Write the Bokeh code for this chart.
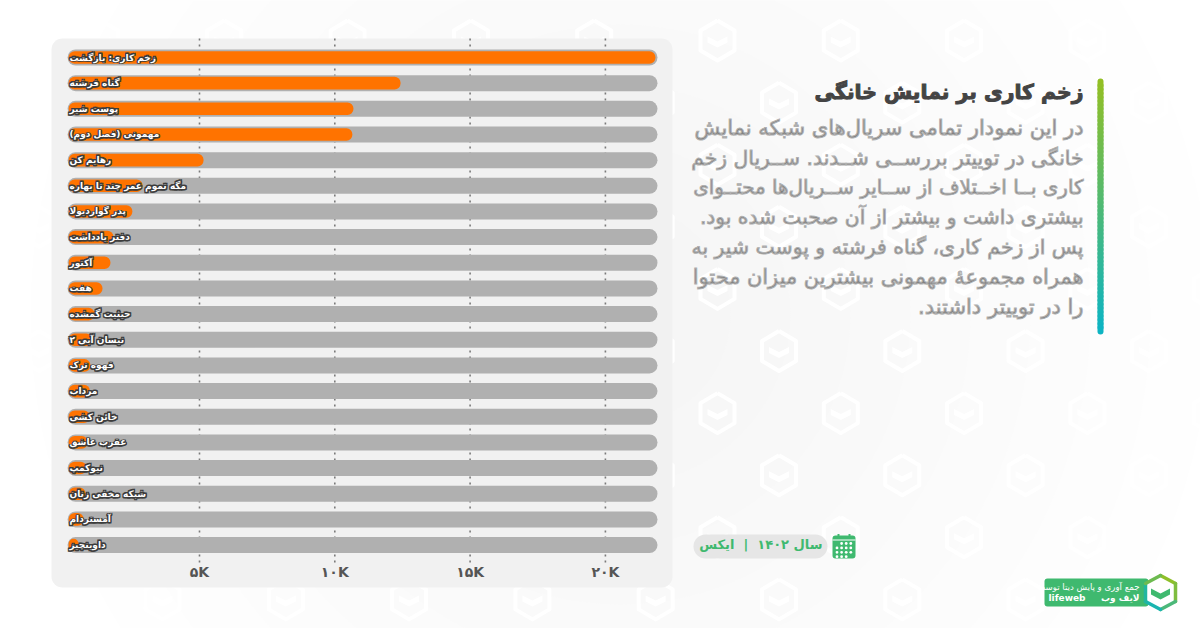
from bokeh.plotting import figure
from bokeh.models import Range1d, LinearAxis, FixedTicker, ColumnDataSource
from bokeh.core.properties import value
from bokeh.embed import file_html
from bokeh.resources import INLINE

# ---------- data ----------
shows = ["زخم کاری: بازگشت", "گناه فرشته", "پوست شیر", "مهمونی (فصل دوم)", "رهایم کن",
         "مگه تموم عمر چند تا بهاره", "پدر گواردیولا", "دفتر یادداشت", "آکتور", "هفت",
         "حیثیت گمشده", "نیسان آبی ۲", "قهوه ترک", "مرداب", "خائن کشی",
         "عقرب عاشق", "نیوکمپ", "شبکه مخفی زنان", "آمستردام", "داوینچیز"]
counts = [21850, 12430, 10690, 10650, 5150,
          2900, 2520, 1820, 1710, 1415,
          1120, 1040, 970, 950, 950,
          870, 825, 790, 720, 530]
track_end = 21925
bar_start = 125
tick_values = [5000, 10000, 15000, 20000]
tick_labels = {5000: "۵K", 10000: "۱۰K", 15000: "۱۵K", 20000: "۲۰K"}

title_text = "زخم کاری بر نمایش خانگی"
body_lines = ["در این نمودار تمامی سریال‌های شبکه نمایش",
              "خانگی در توییتر بررســی شــدند. ســریال زخم",
              "کاری بــا اخــتلاف از ســایر ســریال‌ها محتــوای",
              "بیشتری داشت و بیشتر از آن صحبت شده بود.",
              "پس از زخم کاری، گناه فرشته و پوست شیر به",
              "همراه مجموعهٔ مهمونی بیشترین میزان محتوا",
              "را در توییتر داشتند."]
body_sizes = ["21px", "20.3px", "19.9px", "20.2px", "20.4px", "20.9px", "21px"]
period_text = "سال ۱۴۰۲\u00a0\u00a0|\u00a0\u00a0ایکس"
credit_1 = "جمع آوری و پایش دیتا توسط"
credit_2 = "لایف وب"
credit_3 = "lifeweb"

def rtl(s):
    return "\u200f" + s + "\u200f"

# ---------- scales: the frame fills the page, values map through x_range ----------
W, H = 1200, 628
OFF = 0
PX_PER_UNIT = 135.3 / 5000
X_ZERO_PX = 63.7
ROW_PX = 25.66
ROW0_PX = 57.0
def val_at(px): return (px - X_ZERO_PX) / PX_PER_UNIT
def row_at(py): return (py - ROW0_PX) / ROW_PX

p = figure(width=W, height=H, output_backend="svg", toolbar_location=None,
           x_range=Range1d(val_at(OFF), val_at(OFF + W)),
           y_range=Range1d(row_at(OFF + H), row_at(OFF)),
           min_border=0, min_border_left=0, min_border_right=0, min_border_top=0, min_border_bottom=0,
           x_axis_type=None, y_axis_type=None, outline_line_color=None)
p.grid.visible = False
p.background_fill_color = "#ffffff"
p.border_fill_color = "#ffffff"
p.extra_x_ranges["sx"] = Range1d(OFF, OFF + W)
p.extra_y_ranges["sy"] = Range1d(OFF + H, OFF)
S = dict(x_range_name="sx", y_range_name="sy")
FONT = value("DejaVu Sans")

# background radial glow
glow = ["#fefefe", "#fdfdfd", "#fcfcfc", "#fbfbfb", "#fafafa", "#f9f9f9", "#f8f8f8", "#f7f7f7", "#f6f6f6"]
for i, c in enumerate(glow):
    p.circle(x=[620], y=[314], radius=590 - i * 60, fill_color=c, line_color=None, **S)

# watermark hexagons
hex_pts = [(0, -20), (17, -10), (17, 10), (0, 20), (-17, 10), (-17, -10), (0, -20)]
chev = [(-10, -4), (0, 1), (10, -4), (10, 2), (0, 7), (-10, 2)]
hx, hy, cx, cy = [], [], [], []
for k in range(10):
    y0 = 40 + 62.1 * k
    start = 100.5 if k % 2 == 0 else 38.7
    for n in range(10):
        x0 = start + 123.3 * n
        hx.append([x0 + a for a, b in hex_pts]); hy.append([y0 + b for a, b in hex_pts])
        cx.append([x0 + a for a, b in chev]); cy.append([y0 + b for a, b in chev])
p.multi_line(hx, hy, line_color="#ffffff", line_width=4, line_join="round", **S)
p.patches(cx, cy, fill_color="#ffffff", line_color=None, **S)

# card
p.hbar(y=[(38 + 587) / 2], height=587 - 38, left=[51], right=[672], fill_color="#f1f1f1",
       line_color=None, border_radius=11, **S)

# grid
p.segment(x0=tick_values, x1=tick_values, y0=[row_at(38)] * 4, y1=[row_at(566)] * 4,
          line_color="#7a7a7a", line_width=1.6, line_dash="2 4")

# bars
rows = list(range(len(shows)))
left0 = [bar_start] * len(shows)
p.hbar(y=rows, height=16 / ROW_PX, left=left0, right=[track_end] * len(shows),
       fill_color="#b0b0b0", line_color=None, border_radius=8)
p.hbar(y=rows, height=12.6 / ROW_PX, left=[bar_start + 40] * len(shows), right=counts,
       fill_color="#ff7300", line_color=None, border_radius=6)

# labels: dark halo below, clean white layer above
labels = [rtl(s) for s in shows]
lab = dict(x=[bar_start + 70] * len(shows), y=rows, text=labels, text_font=FONT, text_font_style="bold",
           text_font_size="9px", text_align="left", text_baseline="middle")
for dx, dy in [(-0.8, -0.8), (0.8, -0.8), (-0.8, 0.8), (0.8, 0.8)]:
    p.text(text_color="#3c3c3c", text_outline_color="#3c3c3c", x_offset=dx, y_offset=dy, **lab)
p.text(text_color="#ffffff", **lab)

# axis
axis = LinearAxis(ticker=FixedTicker(ticks=tick_values), fixed_location=row_at(556),
                  major_label_overrides=tick_labels, axis_line_color=None,
                  major_tick_line_color=None, minor_tick_line_color=None,
                  major_label_text_font="DejaVu Sans", major_label_text_font_style="bold",
                  major_label_text_font_size="14px", major_label_text_color="#555555",
                  major_label_standoff=1)
p.add_layout(axis, "below")

# title + paragraph
p.text(x=[1083], y=[91], text=[rtl(title_text)], text_font=FONT, text_font_style="bold",
       text_font_size="20.4px", text_color="#444444", text_outline_color="#444444",
       text_align="right", text_baseline="middle", **S)
body_src = ColumnDataSource(dict(x=[1083] * len(body_lines),
                                 y=[127.5 + 29.8 * i for i in range(len(body_lines))],
                                 t=[rtl(s) for s in body_lines], s=body_sizes))
p.text(x="x", y="y", text="t", source=body_src, text_font=FONT, text_font_size="s",
       text_color="#808080", text_outline_color="#b0b0b0", text_align="right",
       text_baseline="middle", **S)

# accent bar
n = 64
for i in range(n):
    t = i / (n - 1)
    col = "#%02x%02x%02x" % (round(0x93 + (0x0e - 0x93) * t), round(0xbf + (0xb4 - 0xbf) * t), round(0x24 + (0xc2 - 0x24) * t))
    p.segment(x0=[1100], x1=[1100], y0=[81 + 250 * i / n], y1=[81 + 250 * (i + 1) / n],
              line_color=col, line_width=6, line_cap="round", **S)

# period pill
p.hbar(y=[546], height=24, left=[693], right=[827], fill_color="#e6e6e6", line_color=None, border_radius=12, **S)
p.text(x=[822], y=[544], text=[rtl(period_text)], text_font=FONT, text_font_style="bold", text_font_size="13px",
       text_color="#3fb96f", text_align="right", text_baseline="middle", **S)
# calendar icon
p.hbar(y=[546.5], height=23, left=[832], right=[855], fill_color="#3fb96f", line_color=None, border_radius=3, **S)
p.segment(x0=[838, 849], x1=[838, 849], y0=[533.5, 533.5], y1=[536, 536], line_color="#3fb96f", line_width=2, **S)
p.segment(x0=[832], x1=[855], y0=[539.5], y1=[539.5], line_color="#ffffff", line_width=1, **S)
dots = [(1, 0), (2, 0), (3, 0), (0, 1), (1, 1), (2, 1), (3, 1), (0, 2), (1, 2), (2, 2), (3, 2), (0, 3), (1, 3), (2, 3)]
p.scatter([836.5 + 4.6 * a for a, b in dots], [543 + 4.4 * b for a, b in dots], size=2.8,
          marker="circle", fill_color="#ffffff", line_color=None, **S)

# credit
p.hbar(y=[592], height=28, left=[1044], right=[1148], fill_color="#3fb96f", line_color=None, border_radius=3, **S)
p.text(x=[1139], y=[586], text=[rtl(credit_1)], text_font=FONT, text_font_size="8.6px", text_color="#ffffff",
       text_align="right", text_baseline="middle", **S)
p.text(x=[1139], y=[597], text=[rtl(credit_2)], text_font=FONT, text_font_style="bold", text_font_size="9px",
       text_color="#ffffff", text_align="right", text_baseline="middle", **S)
p.text(x=[1048], y=[597], text=[credit_3], text_font=FONT, text_font_style="bold", text_font_size="9px",
       text_color="#ffffff", text_align="left", text_baseline="middle", **S)
lx0, ly0 = 1160, 592
logo = [(0, -17), (15, -9), (15, 9), (0, 17), (-15, 9), (-15, -9), (0, -17)]
p.patch([lx0 + a for a, b in logo], [ly0 + b for a, b in logo], fill_color="#ffffff", line_color=None, **S)
edge_cols = ["#8fbf2a", "#7fbd3f", "#4cb87a", "#1ab5b0", "#22b6a0", "#6dbb50"]
for i, col in enumerate(edge_cols):
    p.segment(x0=[lx0 + logo[i][0]], y0=[ly0 + logo[i][1]], x1=[lx0 + logo[i + 1][0]], y1=[ly0 + logo[i + 1][1]],
              line_color=col, line_width=3.5, line_cap="round", **S)
p.patch([lx0 + a * 0.95 for a, b in chev], [ly0 + b for a, b in chev], fill_color="#3fb96f", line_color=None, **S)

open("out.html", "w").write(file_html(p, INLINE))
